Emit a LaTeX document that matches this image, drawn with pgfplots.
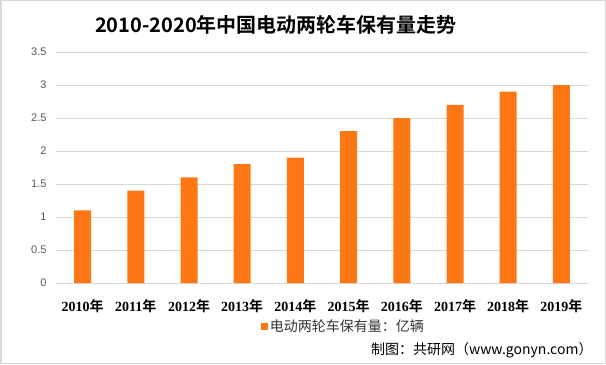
\documentclass[border=0pt]{standalone}
\usepackage{pgfplots}
\pgfplotsset{compat=1.18}
\usepackage{fontspec}
\setmainfont{Liberation Sans}
\newfontfamily\cjk{Noto Sans CJK SC}
\newfontfamily\cjkb{Noto Sans CJK SC Bold}
\newfontfamily\serifb{Liberation Serif Bold}
\definecolor{barorange}{RGB}{253,120,20}
\definecolor{gridgray}{RGB}{217,217,217}
\definecolor{ticktext}{RGB}{89,89,89}
\newcommand{\yr}[1]{{\serifb #1}{\cjkb 年}}
\begin{document}
\begin{tikzpicture}[x=1bp,y=1bp]
\fill[white] (0,0) rectangle (606,364);
\draw[gridgray, line width=1.5bp] (0.75,0.75) rectangle (605.25,363.25);
\node[anchor=center] at (276,339) {\fontsize{20bp}{24bp}\selectfont\cjkb 2010-2020年中国电动两轮车保有量走势};
\node[anchor=east] at (596,14) {\fontsize{14bp}{16bp}\selectfont\cjk 制图：共研网（www.gonyn.com）};
\begin{axis}[
  at={(56bp,81bp)}, anchor=south west,
  scale only axis, width=532bp, height=231bp,
  xmin=-0.5, xmax=9.5, ymin=0, ymax=3.5,
  ytick={0,0.5,1,1.5,2,2.5,3,3.5},
  yticklabels={0,0.5,1,1.5,2,2.5,3,3.5},
  xtick={0,...,9},
  xticklabels={\yr{2010},\yr{2011},\yr{2012},\yr{2013},\yr{2014},\yr{2015},\yr{2016},\yr{2017},\yr{2018},\yr{2019}},
  axis line style={draw=none},
  tick style={draw=none},
  ymajorgrids, grid style={gridgray, line width=1bp},
  yticklabel style={font=\fontsize{11bp}{13bp}\selectfont, text=ticktext, xshift=-6bp},
  xticklabel style={font=\fontsize{14bp}{16bp}\selectfont, anchor=center, yshift=-23bp},
  legend style={at={(0.54,-0.186)}, anchor=center, draw=none, fill=none,
    font=\fontsize{14bp}{16bp}\selectfont\cjk, text=ticktext!60!black},
  legend image code/.code={\fill[barorange] (0bp,-4bp) rectangle (7bp,3bp);},
]
\addplot[ybar, bar width=17bp, fill=barorange, draw=none] coordinates {
 (0,1.1) (1,1.4) (2,1.6) (3,1.8) (4,1.9) (5,2.3) (6,2.5) (7,2.7) (8,2.9) (9,3.0)};
\addlegendentry{电动两轮车保有量：亿辆}
\end{axis}
\end{tikzpicture}
\end{document}
